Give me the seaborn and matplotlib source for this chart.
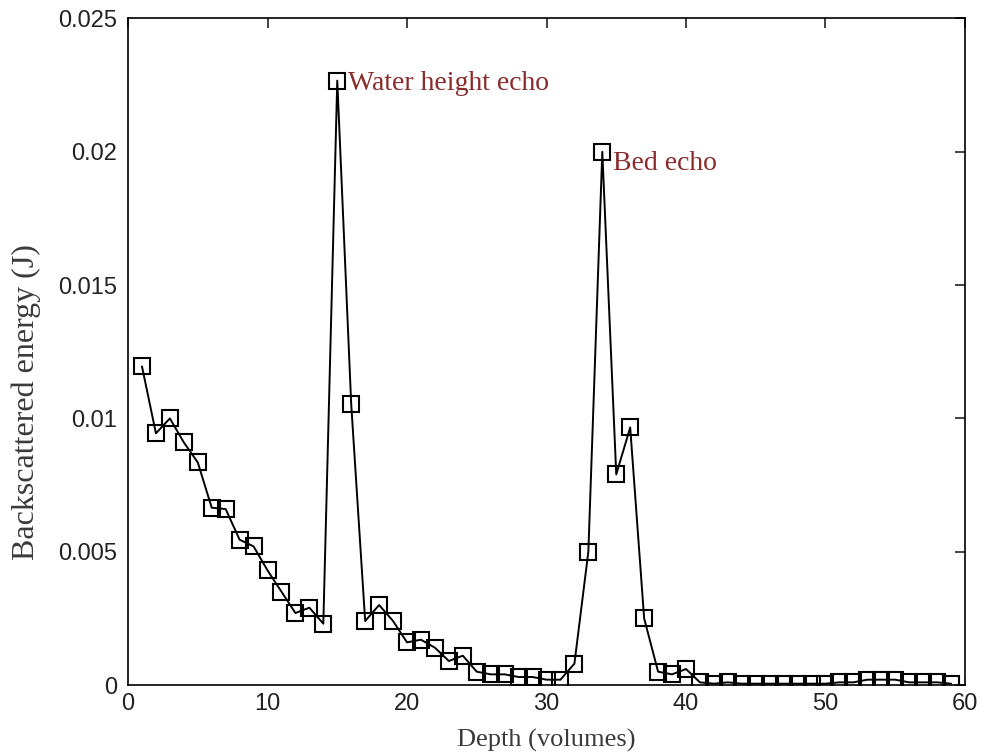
import numpy as np
import pandas as pd
import matplotlib
matplotlib.use("Agg")
import matplotlib.pyplot as plt
import seaborn as sns

# Данные
depth = list(range(1, 60))
energy = [0.01195, 0.00944, 0.0100, 0.0091, 0.00835, 0.00665, 0.0066, 0.00545, 0.0052, 0.0043,
          0.0035, 0.0027, 0.0029, 0.0023, 0.02267, 0.01053, 0.0024, 0.0030, 0.0024, 0.0016,
          0.0017, 0.0014, 0.0009, 0.0011, 0.0005, 0.0004, 0.0004, 0.0003, 0.0003, 0.0002,
          0.0002, 0.0008, 0.0050, 0.0200, 0.0079, 0.00966, 0.0025, 0.0005, 0.0004, 0.0006,
          0.0001, 0.00005, 0.0001, 0.00005, 0.00005, 0.00005, 0.00005, 0.00005, 0.00005, 0.00005,
          0.0001, 0.0001, 0.0002, 0.0002, 0.0002, 0.0001, 0.0001, 0.0001, 0.00005]

x_ticks = [0, 10, 20, 30, 40, 50, 60]
y_ticks = [0, 0.005, 0.01, 0.015, 0.02, 0.025]
y_tick_labels = ["0", "0.005", "0.01", "0.015", "0.02", "0.025"]

df = pd.DataFrame({"depth": depth, "energy": energy})

sns.set_style("white")
plt.rcParams["font.family"] = ["Liberation Sans", "DejaVu Sans"]

fig = plt.figure(figsize=(9.94, 7.55), dpi=100)
ax = fig.add_axes([0.1288, 0.0927, 0.8420, 0.8828])

sns.lineplot(data=df, x="depth", y="energy", ax=ax, color="black", linewidth=1.4,
             marker="s", markersize=11.5, markerfacecolor="none",
             markeredgecolor="black", markeredgewidth=1.5)

ax.set_xlim(0, 60)
ax.set_ylim(0, 0.025)
ax.set_xticks(x_ticks)
ax.set_yticks(y_ticks)
ax.set_yticklabels(y_tick_labels)
ax.tick_params(direction="in", length=7, width=1.2, top=True, right=True,
               labelsize=17, colors="#222222", pad=6)
ax.tick_params(axis="y", pad=8)
for s in ax.spines.values():
    s.set_color("black")
    s.set_linewidth(1.2)

ax.set_xlabel("Depth (volumes)", family="Liberation Serif", fontsize=19,
              color="#3a3a3a", va="bottom")
ax.xaxis.set_label_coords(0.5, -0.1)
ax.set_ylabel("Backscattered energy (J)", family="Liberation Serif", fontsize=23,
              color="#3a3a3a", va="center")
ax.yaxis.set_label_coords(-0.122, 0.424)

ax.text(15.75, 0.02255, "Water height echo", family="Liberation Serif", fontsize=20,
        color="#8b2a2a", va="center", ha="left")
ax.text(34.75, 0.01955, "Bed echo", family="Liberation Serif", fontsize=20,
        color="#8b2a2a", va="center", ha="left")

fig.savefig("out.png", dpi=100)
